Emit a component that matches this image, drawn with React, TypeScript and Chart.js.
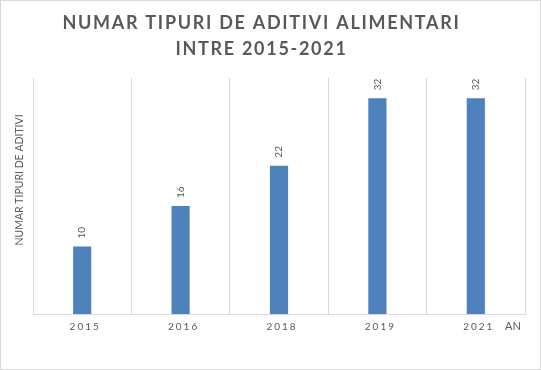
import React, { useEffect, useRef } from "react";
import { Chart, registerables } from "chart.js";

Chart.register(...registerables);

const categories = ["2015", "2016", "2018", "2019", "2021"];
const values = [10, 16, 22, 32, 32];
const titleLines = ["NUMAR TIPURI DE ADITIVI ALIMENTARI", "INTRE 2015-2021"];
const yAxisTitle = "NUMAR TIPURI DE ADITIVI";
const xAxisTitle = "AN";
const yMax = 35;

const TEXT = "#595959";
const GRID = "#d9d9d9";
const BAR = "#4f81bd";
const FONT = "Lato, 'Open Sans', sans-serif";

const drawPlugin = {
  id: "customText",
  afterDraw(chart: any) {
    const ctx = chart.ctx as CanvasRenderingContext2D;
    const W = chart.width;
    const H = chart.height;
    const area = chart.chartArea;
    const xs = chart.scales.x;

    // border
    ctx.save();
    ctx.strokeStyle = GRID;
    ctx.lineWidth = 1;
    ctx.strokeRect(0.5, 0.5, W - 1, H - 1);
    ctx.restore();

    // title
    ctx.save();
    ctx.fillStyle = TEXT;
    ctx.font = `bold 18px ${FONT}`;
    (ctx as any).letterSpacing = "1.7px";
    ctx.textAlign = "center";
    ctx.textBaseline = "middle";
    ctx.fillText(titleLines[0], W / 2 - 9, 23);
    ctx.fillText(titleLines[1], W / 2 - 9, 49);
    ctx.restore();

    // y axis title
    ctx.save();
    ctx.fillStyle = TEXT;
    ctx.font = `10.5px ${FONT}`;
    ctx.translate(20, 180);
    ctx.rotate(-Math.PI / 2);
    ctx.textAlign = "center";
    ctx.textBaseline = "middle";
    ctx.fillText(yAxisTitle, 0, 0);
    ctx.restore();

    // x tick labels
    ctx.save();
    ctx.fillStyle = TEXT;
    ctx.font = `10px ${FONT}`;
    (ctx as any).letterSpacing = "2px";
    ctx.textAlign = "center";
    ctx.textBaseline = "middle";
    categories.forEach((c, i) => {
      ctx.fillText(c, xs.getPixelForValue(i) + 3, area.bottom + 13);
    });
    ctx.restore();

    // x axis title
    ctx.save();
    ctx.fillStyle = TEXT;
    ctx.font = `11px ${FONT}`;
    ctx.textAlign = "center";
    ctx.textBaseline = "middle";
    ctx.fillText(xAxisTitle, 513, area.bottom + 12);
    ctx.restore();

    // data labels
    const meta = chart.getDatasetMeta(0);
    ctx.save();
    ctx.fillStyle = TEXT;
    ctx.font = `10px ${FONT}`;
    meta.data.forEach((bar: any, i: number) => {
      ctx.save();
      ctx.translate(bar.x, bar.y - 8);
      ctx.rotate(-Math.PI / 2);
      ctx.textAlign = "left";
      ctx.textBaseline = "middle";
      ctx.fillText(String(values[i]), 0, 0);
      ctx.restore();
    });
    ctx.restore();
  },
};

export default function App() {
  const ref = useRef<HTMLCanvasElement | null>(null);
  useEffect(() => {
    if (!ref.current) return;
    const chart = new Chart(ref.current, {
      type: "bar",
      data: {
        labels: categories,
        datasets: [
          {
            data: values,
            backgroundColor: BAR,
            borderWidth: 0,
            categoryPercentage: 1,
            barPercentage: 0.185,
          },
        ],
      },
      options: {
        responsive: false,
        animation: false,
        layout: { padding: { left: 33, right: 16, top: 78, bottom: 56 } },
        plugins: {
          legend: { display: false },
          title: { display: false },
          tooltip: { enabled: false },
        },
        scales: {
          x: {
            offset: true,
            grid: { color: GRID, drawTicks: false, offset: true },
            border: { color: GRID },
            ticks: { display: false },
          },
          y: { display: false, min: 0, max: yMax },
        },
      },
      plugins: [drawPlugin],
    });
    return () => chart.destroy();
  }, []);
  return (
    <div style={{ position: "fixed", left: 0, top: 0, width: 541, height: 370, background: "#fff" }}>
      <canvas ref={ref} width={541} height={370} style={{ display: "block" }} />
    </div>
  );
}
